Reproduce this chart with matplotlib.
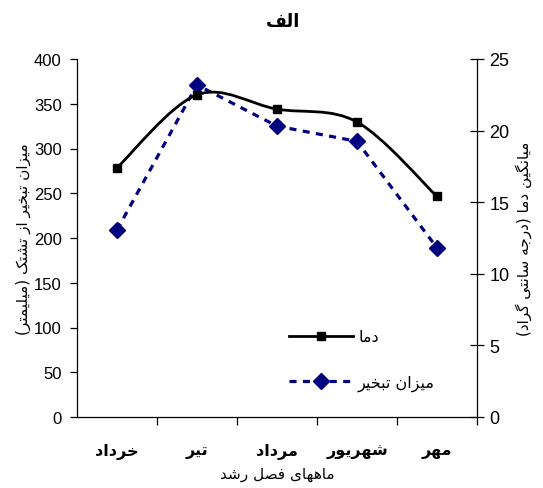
import numpy as np
import matplotlib
matplotlib.use('Agg')
import matplotlib.pyplot as plt
from matplotlib.path import Path
from matplotlib.patches import PathPatch
from matplotlib.lines import Line2D

# data
months = ['خرداد', 'تیر', 'مرداد', 'شهریور', 'مهر']
evaporation = [209, 371, 325, 308, 189]      # mm, left axis
temperature = [17.4, 22.5, 21.5, 20.6, 15.4]  # deg C, right axis
evap_ticks = [0, 50, 100, 150, 200, 250, 300, 350, 400]
temp_ticks = [0, 5, 10, 15, 20, 25]

title = 'الف'
x_label = 'ماههای فصل رشد'
evap_label = 'میزان تبخیر از تشتک (میلیمتر)'
temp_label = 'میانگین دما (درجه سانتی گراد)'
temp_name = 'دما'
evap_name = 'میزان تبخیر'

# simple arabic/persian shaping (matplotlib does no shaping or bidi)
FORMS = {
    'ا': ('\uFE8D', '\uFE8E'),
    'د': ('\uFEA9', '\uFEAA'),
    'ر': ('\uFEAD', '\uFEAE'),
    'ز': ('\uFEAF', '\uFEB0'),
    'و': ('\uFEED', '\uFEEE'),
    'ب': ('\uFE8F', '\uFE90', '\uFE91', '\uFE92'),
    'ت': ('\uFE95', '\uFE96', '\uFE97', '\uFE98'),
    'ج': ('\uFE9D', '\uFE9E', '\uFE9F', '\uFEA0'),
    'خ': ('\uFEA5', '\uFEA6', '\uFEA7', '\uFEA8'),
    'س': ('\uFEB1', '\uFEB2', '\uFEB3', '\uFEB4'),
    'ش': ('\uFEB5', '\uFEB6', '\uFEB7', '\uFEB8'),
    'ص': ('\uFEB9', '\uFEBA', '\uFEBB', '\uFEBC'),
    'ف': ('\uFED1', '\uFED2', '\uFED3', '\uFED4'),
    'ک': ('\uFB8E', '\uFB8F', '\uFB90', '\uFB91'),
    'گ': ('\uFB92', '\uFB93', '\uFB94', '\uFB95'),
    'ل': ('\uFEDD', '\uFEDE', '\uFEDF', '\uFEE0'),
    'م': ('\uFEE1', '\uFEE2', '\uFEE3', '\uFEE4'),
    'ن': ('\uFEE5', '\uFEE6', '\uFEE7', '\uFEE8'),
    'ه': ('\uFEE9', '\uFEEA', '\uFEEB', '\uFEEC'),
    'ی': ('\uFBFC', '\uFBFD', '\uFBFE', '\uFBFF'),
}


def fa(text):
    out = []
    for i, ch in enumerate(text):
        f = FORMS.get(ch)
        if f is None:
            out.append(ch)
            continue
        prev = text[i - 1] if i > 0 else ''
        nxt = text[i + 1] if i + 1 < len(text) else ''
        join_prev = prev in FORMS and len(FORMS[prev]) == 4
        join_next = len(f) == 4 and nxt in FORMS
        if len(f) == 2:
            out.append(f[1] if join_prev else f[0])
        elif join_prev and join_next:
            out.append(f[3])
        elif join_prev:
            out.append(f[1])
        elif join_next:
            out.append(f[2])
        else:
            out.append(f[0])
    vis = ''.join(reversed(out))
    return vis.translate(str.maketrans('()', ')('))


plt.rcParams['font.family'] = 'DejaVu Sans'
num_font = ['Liberation Sans', 'DejaVu Sans']

fig = plt.figure(figsize=(5.43, 4.89), dpi=100)
ax = fig.add_axes([77 / 543, 1 - 418 / 489, 400 / 543, 358 / 489])
ax2 = ax.twinx()

x = np.arange(len(months))
dash = (0, (2.2, 2.0))

# evaporation: dashed navy with diamonds
ax.plot(x, evaporation, color='#000080', lw=2.3, ls=dash,
        marker='D', ms=8.5, mfc='#000080', mec='#000080', zorder=3)


# temperature: smoothed black line with squares
def smooth_path(xs, ys):
    pts = np.column_stack([xs, ys]).astype(float)
    verts = [pts[0]]
    codes = [Path.MOVETO]
    n = len(pts)
    for i in range(n - 1):
        p0 = pts[i - 1] if i > 0 else pts[i]
        p3 = pts[i + 2] if i + 2 < n else pts[i + 1]
        c1 = pts[i] + (pts[i + 1] - p0) / 6
        c2 = pts[i + 1] - (p3 - pts[i]) / 6
        verts += [c1, c2, pts[i + 1]]
        codes += [Path.CURVE4] * 3
    return Path(verts, codes)


ax2.add_patch(PathPatch(smooth_path(x, temperature), fc='none', ec='black', lw=2))
ax2.plot(x, temperature, ls='none', marker='s', ms=6, color='black')

ax.set_xlim(-0.5, len(months) - 0.5)
ax.set_ylim(0, 400)
ax2.set_ylim(0, 25)

# spines
ax.spines['top'].set_visible(False)
ax.spines['right'].set_visible(False)
ax2.spines['top'].set_visible(False)
ax2.spines['left'].set_visible(False)
ax2.spines['bottom'].set_visible(False)
for s in ['left', 'bottom']:
    ax.spines[s].set_linewidth(0.9)
ax2.spines['right'].set_linewidth(0.9)

# x axis: tick marks at boundaries, labels centered in categories
ax.set_xticks(np.arange(0.5, len(months), 1.0))
ax.set_xticklabels([])
ax.tick_params(axis='x', which='major', direction='out', length=6, width=0.9)
ax.set_xticks(x, minor=True)
ax.set_xticklabels([fa(m) for m in months], minor=True, fontweight='bold', fontsize=11.5)
ax.tick_params(axis='x', which='minor', length=0, pad=19)

ax.set_yticks(evap_ticks)
ax.set_yticklabels([str(v) for v in evap_ticks], family=num_font, fontsize=12)
ax.tick_params(axis='y', direction='out', length=5, width=0.9, pad=6)

ax2.set_yticks(temp_ticks)
ax2.set_yticklabels([str(v) for v in temp_ticks], family=num_font, fontsize=13)
ax2.tick_params(axis='y', direction='inout', length=10, width=0.9, pad=4)

ax.set_xlabel(fa(x_label), fontsize=11, labelpad=5)
ax.set_ylabel(fa(evap_label), fontsize=11, labelpad=2)
ax2.set_ylabel(fa(temp_label), fontsize=11, rotation=90, labelpad=4)

fig.text(283 / 543, 1 - 22 / 489, fa(title), ha='center', va='center',
         fontsize=13, fontweight='bold')

handles = [
    Line2D([], [], color='black', lw=2, marker='s', ms=6),
    Line2D([], [], color='#000080', lw=2.3, ls=dash, marker='D', ms=8.5),
]
ax2.legend(handles, [fa(temp_name), fa(evap_name)], loc='upper left',
           bbox_to_anchor=(0.495, 0.285), frameon=False, handlelength=4.0,
           handletextpad=0.3, labelspacing=1.9, fontsize=11.5)

fig.savefig('out.png', dpi=100)
